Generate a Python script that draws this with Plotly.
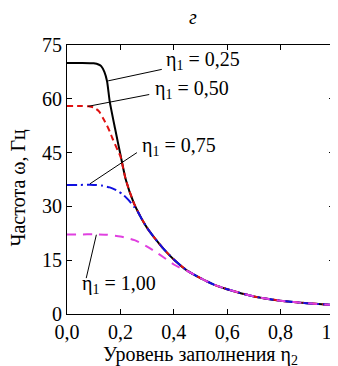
import plotly.graph_objects as go

# Envelope / eta1 = 0.25 (black solid)
x_025 = [0.0, 0.05, 0.10, 0.12, 0.128, 0.14, 0.15, 0.16, 0.18, 0.20, 0.22, 0.25, 0.28, 0.30, 0.33, 0.36, 0.40, 0.45, 0.50, 0.55, 0.60, 0.70, 0.80, 0.90, 1.00]
y_025 = [70.0, 70.0, 69.9, 69.5, 69.1, 67.5, 64.9, 59.3, 51.7, 44.5, 37.5, 31.0, 26.5, 24.0, 21.0, 18.3, 15.2, 12.1, 10.0, 8.2, 6.9, 4.9, 3.7, 3.0, 2.5]

# eta1 = 0.50 (red dashed)
x_050 = [0.0, 0.05, 0.08, 0.10, 0.12, 0.135, 0.15, 0.16, 0.17, 0.18, 0.19, 0.20, 0.22, 0.25, 0.28, 0.30, 0.33, 0.36, 0.40, 0.45, 0.50, 0.55, 0.60, 0.70, 0.80, 0.90, 1.00]
y_050 = [58.0, 58.0, 57.9, 57.6, 56.5, 54.6, 52.5, 50.9, 49.0, 47.3, 45.6, 44.0, 37.5, 31.0, 26.5, 24.0, 21.0, 18.3, 15.2, 12.1, 10.0, 8.2, 6.9, 4.9, 3.7, 3.0, 2.5]

# eta1 = 0.75 (blue dash-dot)
x_075 = [0.0, 0.05, 0.10, 0.13, 0.16, 0.19, 0.21, 0.23, 0.25, 0.266, 0.28, 0.30, 0.33, 0.36, 0.40, 0.45, 0.50, 0.55, 0.60, 0.70, 0.80, 0.90, 1.00]
y_075 = [36.0, 36.0, 36.0, 35.8, 35.3, 34.3, 33.3, 31.8, 30.0, 28.4, 26.5, 24.0, 21.0, 18.3, 15.2, 12.1, 10.0, 8.2, 6.9, 4.9, 3.7, 3.0, 2.5]

# eta1 = 1.00 (magenta dashed)
x_100 = [0.0, 0.05, 0.10, 0.15, 0.20, 0.253, 0.30, 0.34, 0.36, 0.40, 0.43, 0.45, 0.50, 0.55, 0.60, 0.70, 0.80, 0.90, 1.00]
y_100 = [22.2, 22.2, 22.2, 22.1, 21.6, 20.6, 18.8, 16.9, 15.9, 13.8, 12.6, 12.0, 10.0, 8.2, 6.9, 4.9, 3.7, 3.0, 2.5]

x_ticks = [0.0, 0.2, 0.4, 0.6, 0.8, 1.0]
x_ticklabels = ["0,0", "0,2", "0,4", "0,6", "0,8", "1,0"]
y_ticks = [0, 15, 30, 45, 60, 75]

labels = ["η<sub>1</sub> = 0,25", "η<sub>1</sub> = 0,50", "η<sub>1</sub> = 0,75", "η<sub>1</sub> = 1,00"]
label_pos = [(0.365, 69.2), (0.322, 61.3), (0.273, 45.4), (0.049, 6.9)]
leader_from = [(0.154, 65.0), (0.079, 57.9), (0.086, 36.3), (0.110, 22.1)]
leader_to = [(0.355, 68.2), (0.308, 61.2), (0.262, 45.0), (0.072, 10.0)]

FONT = "Liberation Serif"
FS = 20

fig = go.Figure()
fig.add_trace(go.Scatter(x=x_025, y=y_025, mode="lines", line=dict(color="black", width=2, shape="spline", smoothing=0.6)))
fig.add_trace(go.Scatter(x=x_050, y=y_050, mode="lines", line=dict(color="#e01010", width=2, dash="6px,4px", shape="spline", smoothing=0.6)))
fig.add_trace(go.Scatter(x=x_075, y=y_075, mode="lines", line=dict(color="#1010e0", width=2, dash="10px,4px,2px,4px", shape="spline", smoothing=0.6)))
fig.add_trace(go.Scatter(x=x_100, y=y_100, mode="lines", line=dict(color="#e040e0", width=2, dash="9px,7px", shape="spline", smoothing=0.6)))

for (x0, y0), (x1, y1) in zip(leader_from, leader_to):
    fig.add_shape(type="line", x0=x0, y0=y0, x1=x1, y1=y1, line=dict(color="black", width=1))

for txt, (lx, ly) in zip(labels, label_pos):
    fig.add_annotation(x=lx, y=ly, text=txt, showarrow=False, xanchor="left", yanchor="middle", yshift=5,
                       font=dict(family=FONT, size=FS, color="black"))

# panel letter
fig.add_annotation(x=0.472, y=1.0, xref="paper", yref="paper", yshift=28, text="<i>г</i>", showarrow=False,
                   font=dict(family=FONT, size=FS, color="black"), yanchor="middle")

# y-axis title (placed near the left edge as in the reference)
fig.add_annotation(x=0, y=0.47, xref="paper", yref="paper", xshift=-48, text="Частота ω, Гц", textangle=-90,
                   showarrow=False, xanchor="center", yanchor="middle",
                   font=dict(family=FONT, size=FS, color="black"))

axis_common = dict(showline=True, linecolor="black", linewidth=1, mirror="ticks", ticks="inside",
                   ticklen=5, tickcolor="black", showgrid=False, zeroline=False, automargin=False,
                   ticklabeloverflow="allow",
                   tickfont=dict(family=FONT, size=FS, color="black"))

fig.update_xaxes(range=[0, 1], tickvals=x_ticks, ticktext=x_ticklabels,
                 title=dict(text="Уровень заполнения η<sub>2</sub>", font=dict(family=FONT, size=FS, color="black"), standoff=2),
                 **axis_common)
fig.update_yaxes(range=[0, 75], tickvals=y_ticks, **axis_common)

fig.update_layout(width=338, height=366, margin=dict(l=59, r=12, t=37, b=60),
                  paper_bgcolor="white", plot_bgcolor="white", showlegend=False,
                  font=dict(family=FONT))

fig.write_html("out.html")
